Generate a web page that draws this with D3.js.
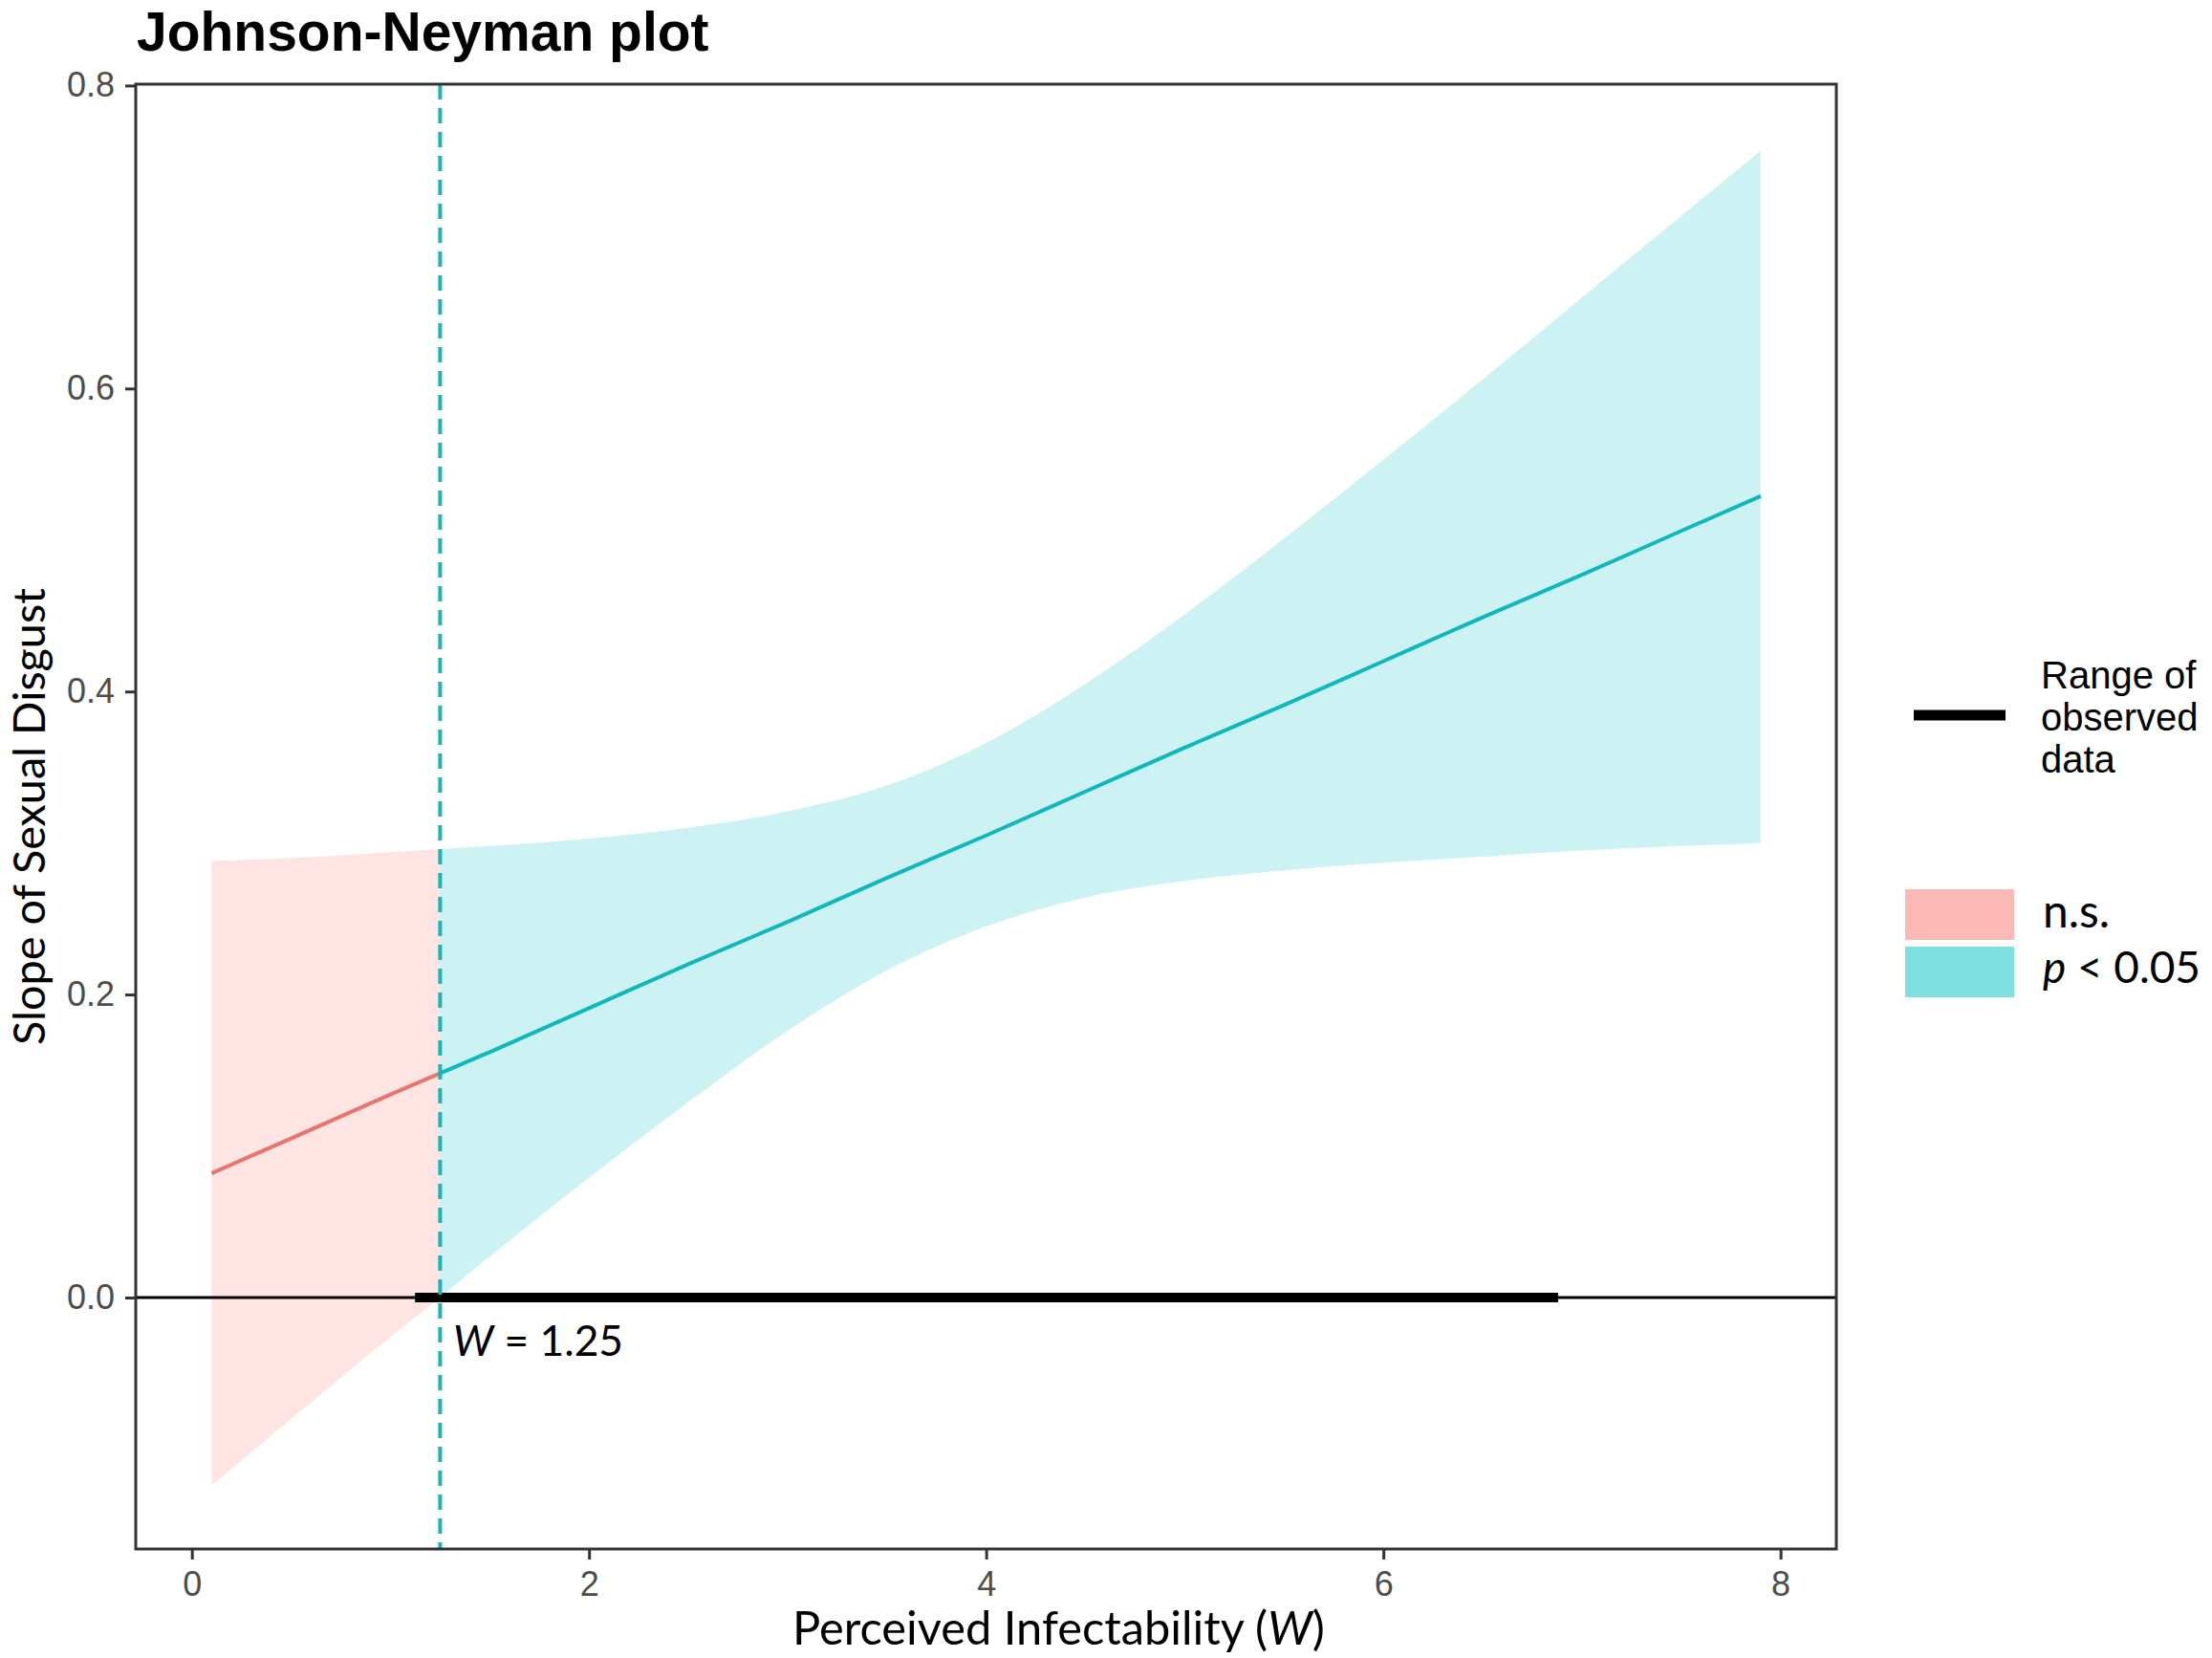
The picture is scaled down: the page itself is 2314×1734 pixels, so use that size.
<!DOCTYPE html>
<html>
<head>
<meta charset="utf-8">
<script src="https://cdn.jsdelivr.net/npm/d3@7"></script>
<style>
  html, body { margin: 0; padding: 0; background: #ffffff; }
  svg { display: block; }
</style>
</head>
<body>
<svg id="chart" width="2314" height="1734"></svg>
<script>
// ---------------- data ----------------
const wValues  = [0.1, 0.5, 1.0, 1.25, 1.5, 2.0, 2.5, 3.0, 3.5, 4.0, 4.5, 5.0, 5.5, 6.0, 6.5, 7.0, 7.5, 7.9];
const slopeEst = [0.082, 0.105, 0.134, 0.148, 0.162, 0.191, 0.220, 0.248, 0.277, 0.305, 0.334, 0.363, 0.391, 0.420, 0.449, 0.477, 0.506, 0.529];
const ciUpper  = [0.288, 0.290, 0.294, 0.296, 0.298, 0.303, 0.310, 0.321, 0.338, 0.366, 0.405, 0.451, 0.501, 0.553, 0.606, 0.660, 0.714, 0.757];
const ciLower  = [-0.124, -0.080, -0.026, 0.000, 0.027, 0.079, 0.129, 0.176, 0.216, 0.245, 0.264, 0.275, 0.282, 0.287, 0.291, 0.295, 0.298, 0.300];
const jnPoint = 1.25;                 // Johnson-Neyman boundary
const observedRange = [1.124, 6.88];  // range of observed W
const xTicks = [0, 2, 4, 6, 8];
const yTicks = [0.0, 0.2, 0.4, 0.6, 0.8];
const legendGroups = ["n.s.", "p < 0.05"];

// ---------------- layout ----------------
const panel = { left: 142, right: 1921, top: 88, bottom: 1620 };
const colNS = "#F8766D", colSig = "#00BFC4";
const lineNS = "#E8756D", lineSig = "#12B7BC";
const calibriLike = "Lato, 'Open Sans', 'Noto Sans', sans-serif";
const arialLike = "'Liberation Sans', Arial, sans-serif";

const svg = d3.select("#chart");

const x = d3.scaleLinear().domain([-0.2826, 8.281]).range([panel.left, panel.right]);
const y = d3.scaleLinear().domain([-0.166, 0.8009]).range([panel.bottom, panel.top]);

const rows = wValues.map((w, i) => ({ w, est: slopeEst[i], lo: ciLower[i], hi: ciUpper[i] }));
const nsRows = rows.filter(d => d.w <= jnPoint);
const sigRows = rows.filter(d => d.w >= jnPoint);

svg.append("defs").append("clipPath").attr("id", "panelClip")
  .append("rect").attr("x", panel.left).attr("y", panel.top)
  .attr("width", panel.right - panel.left).attr("height", panel.bottom - panel.top);

const g = svg.append("g").attr("clip-path", "url(#panelClip)");

const area = d3.area().x(d => x(d.w)).y0(d => y(d.lo)).y1(d => y(d.hi)).curve(d3.curveMonotoneX);
const line = d3.line().x(d => x(d.w)).y(d => y(d.est)).curve(d3.curveMonotoneX);

g.append("path").datum(nsRows).attr("d", area).attr("fill", colNS).attr("fill-opacity", 0.2);
g.append("path").datum(sigRows).attr("d", area).attr("fill", colSig).attr("fill-opacity", 0.2);
g.append("path").datum(nsRows).attr("d", line).attr("fill", "none").attr("stroke", lineNS).attr("stroke-width", 4);
g.append("path").datum(sigRows).attr("d", line).attr("fill", "none").attr("stroke", lineSig).attr("stroke-width", 4);

// zero line
g.append("line").attr("x1", panel.left).attr("x2", panel.right)
  .attr("y1", y(0)).attr("y2", y(0)).attr("stroke", "#000").attr("stroke-width", 3);
// observed range
g.append("line").attr("x1", x(observedRange[0])).attr("x2", x(observedRange[1]))
  .attr("y1", y(0)).attr("y2", y(0)).attr("stroke", "#000").attr("stroke-width", 10);
// JN dashed line
g.append("line").attr("x1", x(jnPoint)).attr("x2", x(jnPoint))
  .attr("y1", panel.top).attr("y2", panel.bottom)
  .attr("stroke", "#1BB5B8").attr("stroke-width", 4).attr("stroke-dasharray", "16,9");

// panel border
svg.append("rect").attr("x", panel.left).attr("y", panel.top)
  .attr("width", panel.right - panel.left).attr("height", panel.bottom - panel.top)
  .attr("fill", "none").attr("stroke", "#333333").attr("stroke-width", 3);

// axes
const yAxis = svg.append("g").attr("transform", `translate(${panel.left},0)`)
  .call(d3.axisLeft(y).tickValues(yTicks).tickFormat(d3.format(".1f")).tickSize(11).tickPadding(11));
const xAxis = svg.append("g").attr("transform", `translate(0,${panel.bottom})`)
  .call(d3.axisBottom(x).tickValues(xTicks).tickFormat(d3.format("d")).tickSize(11).tickPadding(12));
[yAxis, xAxis].forEach(a => {
  a.select(".domain").remove();
  a.selectAll(".tick line").attr("stroke", "#333333").attr("stroke-width", 3);
  a.selectAll(".tick text").attr("fill", "#4D4D4D").style("font-family", arialLike).style("font-size", "36px");
});

function fit(sel, target) {
  const len = sel.node().getComputedTextLength();
  const fs = parseFloat(sel.style("font-size"));
  sel.style("font-size", (fs * target / len) + "px");
}

// title
svg.append("text").attr("x", 143).attr("y", 53)
  .style("font-family", arialLike).style("font-weight", "bold").style("font-size", "57px")
  .attr("fill", "#000").text("Johnson-Neyman plot");

// y title
const yt = svg.append("text").attr("transform", `translate(47,${(panel.top + panel.bottom) / 2}) rotate(-90)`)
  .attr("text-anchor", "middle").style("font-family", calibriLike).style("font-size", "42px")
  .attr("fill", "#000").text("Slope of Sexual Disgust");
fit(yt, 478);

// x title
const xt = svg.append("text").attr("x", 829).attr("y", 1720)
  .style("font-family", calibriLike).style("font-size", "42px").attr("fill", "#000");
xt.append("tspan").text("Perceived Infectability (");
xt.append("tspan").style("font-style", "italic").text("W");
xt.append("tspan").text(")");
fit(xt, 557);

// JN label
const jl = svg.append("text").attr("x", 474).attr("y", 1418)
  .style("font-family", calibriLike).style("font-size", "44px").attr("fill", "#000");
jl.append("tspan").style("font-style", "italic").text("W");
jl.append("tspan").text(" = " + jnPoint.toFixed(2));
fit(jl, 178);

// legend: range of observed data
svg.append("line").attr("x1", 2002).attr("x2", 2098).attr("y1", 748).attr("y2", 748)
  .attr("stroke", "#000").attr("stroke-width", 11);
const lt = svg.append("text").style("font-family", arialLike).style("font-size", "40px").attr("fill", "#000");
["Range of", "observed", "data"].forEach((s, i) => {
  lt.append("tspan").attr("x", 2135).attr("y", 720 + i * 44).text(s);
});

// legend: significance
const swatchY = [930, 990];
const swatchCols = [colNS, colSig];
legendGroups.forEach((lab, i) => {
  svg.append("rect").attr("x", 1993).attr("y", swatchY[i]).attr("width", 114).attr("height", 53)
    .attr("fill", swatchCols[i]).attr("fill-opacity", 0.5);
});
const ns = svg.append("text").attr("x", 2137).attr("y", 970)
  .style("font-family", calibriLike).style("font-size", "44px").attr("fill", "#000").text(legendGroups[0]);
fit(ns, 70);
const ps = svg.append("text").attr("x", 2137).attr("y", 1028)
  .style("font-family", calibriLike).style("font-size", "44px").attr("fill", "#000");
ps.append("tspan").style("font-style", "italic").text("p");
ps.append("tspan").text(" < 0.05");
fit(ps, 165);
</script>
</body>
</html>
